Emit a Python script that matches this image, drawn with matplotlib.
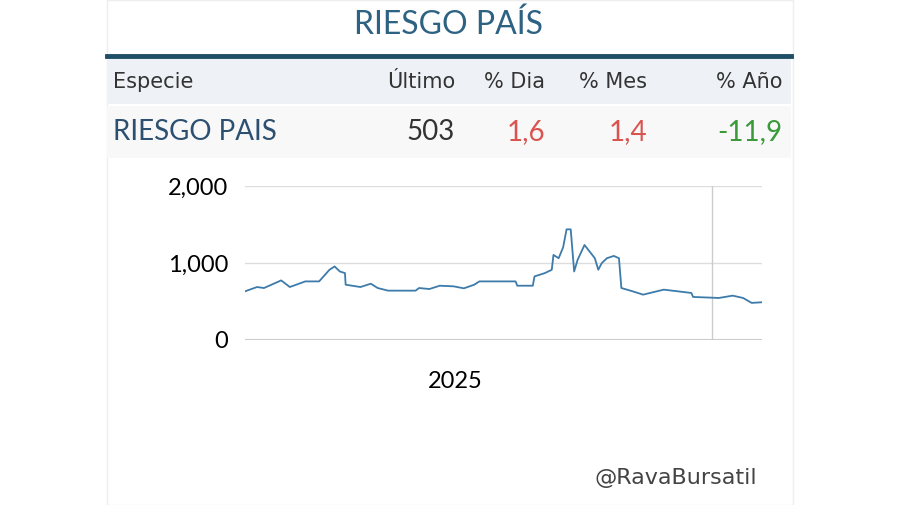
import matplotlib
matplotlib.use("Agg")
import matplotlib.pyplot as plt
from matplotlib.patches import Rectangle

# data: (relative position 0..1 along period, value)
pos_raw = [45,80,100,150,175,220,260,290,305,320,335,337,380,410,430,460,540,550,580,610,650,680,710,725,830,835,880,885,915,935,940,955,968,978,990,1000,1010,1030,1045,1060,1070,1080,1095,1115,1130,1137,1170,1200,1240,1260,1340,1345,1420,1460,1490,1515,1545]
values = [632,688,675,774,688,761,761,912,955,890,869,718,688,731,675,641,641,675,662,705,697,671,718,761,761,705,705,826,869,912,1105,1062,1204,1437,1437,890,1041,1234,1148,1062,912,998,1062,1092,1062,675,632,589,632,654,611,559,546,576,546,482,490]
positions = [(p-45)/1500 for p in pos_raw]
headers = ["Especie", "Último", "% Dia", "% Mes", "% Año"]
row = ["RIESGO PAIS", "503", "1,6", "1,4", "-11,9"]
yticks = [0, 1000, 2000]
ytick_labels = ["0", "1,000", "2,000"]
xtick_pos = [0.406]
xtick_labels = ["2025"]

plt.rcParams['font.family'] = ['Lato', 'DejaVu Sans']
fig = plt.figure(figsize=(9, 5.05), dpi=100)
W, H = 900, 505
def fx(x): return x / W
def fy(y): return 1 - y / H

fig.add_artist(Rectangle((fx(107), 0), fx(793)-fx(107), 1, transform=fig.transFigure, facecolor='white', edgecolor='#eeeeee', lw=1, zorder=-5))
fig.add_artist(Rectangle((fx(107), fy(104)), fx(791)-fx(107), fy(59)-fy(104), transform=fig.transFigure, facecolor='#eef2f6', lw=0, zorder=-4))
fig.add_artist(Rectangle((fx(107), fy(158)), fx(791)-fx(107), fy(106)-fy(158), transform=fig.transFigure, facecolor='#f8f8f8', lw=0, zorder=-4))
fig.add_artist(plt.Line2D([fx(107), fx(791)], [fy(56), fy(56)], transform=fig.transFigure, color='#1f4e66', lw=3.5))
fig.text(fx(449), fy(25), "RIESGO PAÍS", ha='center', va='center', fontsize=23, color='#2d6283')

hx = [113, 455, 545, 647, 782]
ha = ['left', 'right', 'right', 'right', 'right']
for x, tx, a in zip(hx, headers, ha):
    fig.text(fx(x), fy(82), tx, ha=a, va='center', fontsize=15, color='#333333', fontfamily=['DejaVu Sans'])
colors = ['#2d5070', '#333333', '#d9534f', '#d9534f', '#3a9a3a']
for x, tx, a, c in zip(hx, row, ha, colors):
    fig.text(fx(x), fy(132), tx, ha=a, va='center', fontsize=20, color=c)

ax = fig.add_axes([fx(245), fy(340), fx(762)-fx(245), fy(186)-fy(340)], zorder=5)
ax.plot(positions, values, color='#3d7bab', lw=1.3, zorder=3)
ax.set_xlim(0, 1)
ax.set_ylim(0, 2000)
ax.set_yticks(yticks)
ax.set_yticklabels(ytick_labels, fontsize=17)
ax.set_xticks(xtick_pos)
ax.set_xticklabels(xtick_labels, fontsize=17)
ax.tick_params(length=0, pad=12)
ax.tick_params(axis='x', pad=22)
for y in [1000, 2000]:
    ax.axhline(y, color='#dddddd', lw=1)
ax.axhline(0, color='#cccccc', lw=1.5)
ax.axvline(0.903, color='#cccccc', lw=1)
for s in ax.spines.values():
    s.set_visible(False)
ax.set_facecolor('none')

fig.text(fx(757), fy(478), "@RavaBursatil", ha='right', va='center', fontsize=16, color='#444444', fontfamily=['DejaVu Sans'])
fig.savefig("out.png", dpi=100)
